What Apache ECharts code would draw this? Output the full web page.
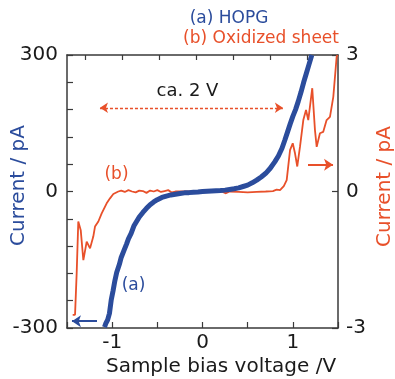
<!DOCTYPE html>
<html><head><meta charset="utf-8">
<script src="https://cdn.jsdelivr.net/npm/echarts@6/dist/echarts.min.js"></script>
<style>html,body{margin:0;padding:0;background:#fff}#c{width:395px;height:379px}</style>
</head><body><div id="c"></div>
<script>
// (a) HOPG — left axis, pA
const hopgV = [-1.085,-1.07,-1.05,-1.03,-1.01,-0.99,-0.97,-0.95,-0.92,-0.9,-0.87,-0.84,-0.82,-0.79,-0.76,-0.73,-0.7,-0.66,-0.62,-0.58,-0.54,-0.5,-0.45,-0.4,-0.35,-0.3,-0.25,-0.2,-0.15,-0.1,-0.05,0,0.05,0.1,0.15,0.2,0.25,0.3,0.35,0.4,0.45,0.5,0.55,0.6,0.65,0.7,0.75,0.8,0.84,0.88,0.91,0.94,0.97,1.0,1.03,1.06,1.09,1.12,1.15,1.18,1.21];
const hopgI = [-298,-290,-282,-268,-238,-218,-196,-178,-160,-145,-130,-115,-104,-92,-76,-66,-56,-46,-37,-29,-23,-18,-13,-10,-7.5,-6,-4.5,-3,-2.5,-1.5,-1,0,0.5,1,1.5,2,3,4.5,6,8,11,14,19,25,32,40,51,65,78,95,112,130,148,165,180,198,218,240,260,280,300];
// (b) Oxidized sheet — right axis
const oxV = [-1.437,-1.411,-1.393,-1.375,-1.348,-1.319,-1.282,-1.245,-1.209,-1.19,-1.153,-1.116,-1.061,-1.024,-0.987,-0.932,-0.9,-0.86,-0.82,-0.78,-0.74,-0.7,-0.66,-0.62,-0.58,-0.54,-0.5,-0.46,-0.42,-0.38,-0.34,-0.3,-0.2,-0.1,0,0.1,0.2,0.26,0.3,0.4,0.5,0.6,0.7,0.78,0.82,0.858,0.9,0.932,0.969,0.999,1.024,1.049,1.079,1.116,1.146,1.171,1.215,1.245,1.264,1.3,1.336,1.374,1.411,1.448,1.467,1.485,1.494];
const oxI = [-2.71,-2.71,-1.8,-0.66,-0.85,-1.51,-1.1,-1.25,-0.99,-0.77,-0.66,-0.48,-0.26,-0.15,-0.055,0,0.02,-0.01,0.03,0,-0.02,0.02,0.01,-0.03,0.02,0,0.03,-0.01,0.01,0.03,-0.02,0,0,0,0,0,0.01,-0.04,0,-0.01,-0.02,-0.01,0,0.01,0.04,0.03,0.12,0.25,0.91,1.06,0.84,0.55,0.98,1.57,1.79,1.57,2.27,1.35,0.98,1.28,1.31,1.57,1.64,2.08,2.05,2.96,3.0];

const xTickLabels = [-1, 0, 1];
const leftTickLabels = [-300, 0, 300];
const rightTickLabels = [-3, 0, 3];
const topTickValues = [-1.3, -0.89, -0.48, -0.07, 0.34, 0.75, 1.16];

// annotation arrows (data units)
const gapArrow = [[-1.135, 1.84], [0.89, 1.84]];      // right axis units
const blueArrow = [[-1.168, -285], [-1.445, -285]];   // left axis units
const redArrow = [[1.168, 0.59], [1.445, 0.59]];      // right axis units

const BLUE = '#2b4c9c', RED = '#e8502a', FONT = 'DejaVu Sans';
const zip = (a, b) => a.map((v, i) => [v, b[i]]);
const axisLine = {show: true, onZero: false, lineStyle: {color: '#3a3a3a', width: 1.5}};

const chart = echarts.init(document.getElementById('c'), null, {renderer: 'canvas'});
chart.setOption({
  backgroundColor: '#fff',
  animation: false,
  grid: {left: 67, right: 57, top: 55, bottom: 51, containLabel: false, outerBoundsMode: 'none'},
  xAxis: [{
    type: 'value', position: 'bottom', min: -1.5, max: 1.5, interval: 0.5,
    axisLine, splitLine: {show: false},
    axisTick: {inside: true, length: 6, lineStyle: {color: '#3a3a3a', width: 1.2}},
    axisLabel: {margin: 5, fontFamily: FONT, fontSize: 20, color: '#1a1a1a',
      formatter: v => xTickLabels.some(t => Math.abs(t - v) < 1e-6) ? String(Math.round(v)) : ''},
    name: 'Sample bias voltage /V', nameLocation: 'middle', nameGap: 29, nameMoveOverlap: false,
    nameTextStyle: {fontFamily: FONT, fontSize: 20, color: '#1a1a1a', padding: [0, 0, 0, 37]}
  }, {
    type: 'value', position: 'top', min: -1.5, max: 1.5,
    axisLine, splitLine: {show: false},
    axisTick: {inside: true, length: 5, customValues: topTickValues, lineStyle: {color: '#3a3a3a', width: 1.2}},
    axisLabel: {show: false}
  }],
  yAxis: [{
    type: 'value', position: 'left', min: -300, max: 300, interval: 60,
    axisLine, splitLine: {show: false},
    axisTick: {inside: true, length: 6, lineStyle: {color: '#3a3a3a', width: 1.2}},
    axisLabel: {margin: 9, fontFamily: FONT, fontSize: 20, color: '#1a1a1a',
      formatter: v => leftTickLabels.includes(Math.round(v)) && Math.abs(v - Math.round(v)) < 1e-6 ? String(Math.round(v)) : ''},
    name: 'Current / pA', nameLocation: 'middle', nameRotate: 90, nameGap: 38, nameMoveOverlap: false,
    nameTextStyle: {fontFamily: FONT, fontSize: 20, color: BLUE, padding: [0, 0, 0, 12]}
  }, {
    type: 'value', position: 'right', min: -3, max: 3, interval: 3,
    axisLine, splitLine: {show: false},
    axisTick: {inside: true, length: 6, lineStyle: {color: '#3a3a3a', width: 1.2}},
    axisLabel: {margin: 8, fontFamily: FONT, fontSize: 20, color: '#1a1a1a',
      formatter: v => rightTickLabels.includes(Math.round(v)) ? String(Math.round(v)) : ''},
    name: 'Current / pA', nameLocation: 'middle', nameRotate: 90, nameGap: 37, nameMoveOverlap: false,
    nameTextStyle: {fontFamily: FONT, fontSize: 20, color: RED, padding: [0, 0, 0, 10]}
  }],
  series: [{
    name: '(b) Oxidized sheet', type: 'line', xAxisIndex: 0, yAxisIndex: 1,
    data: zip(oxV, oxI), showSymbol: false, symbol: 'none',
    lineStyle: {color: RED, width: 1.8}, z: 2,
    markLine: {
      silent: true, animation: false, label: {show: false},
      data: [
        [{coord: gapArrow[0], symbol: 'arrow', symbolSize: 8, lineStyle: {color: RED, width: 1.3, type: [3, 2]}},
         {coord: gapArrow[1], symbol: 'arrow', symbolSize: 8}],
        [{coord: redArrow[0], symbol: 'none', lineStyle: {color: RED, width: 2, type: 'solid'}},
         {coord: redArrow[1], symbol: 'arrow', symbolSize: 9}]
      ]
    }
  }, {
    name: '(a) HOPG', type: 'line', xAxisIndex: 0, yAxisIndex: 0,
    data: zip(hopgV, hopgI), showSymbol: false, symbol: 'none',
    lineStyle: {color: BLUE, width: 5}, z: 3,
    markLine: {
      silent: true, animation: false, label: {show: false},
      data: [
        [{coord: blueArrow[0], symbol: 'none', lineStyle: {color: BLUE, width: 2, type: 'solid'}},
         {coord: blueArrow[1], symbol: 'arrow', symbolSize: 9}]
      ]
    }
  }],
  graphic: [
    {type: 'text', x: 229, y: 19, style: {text: '(a) HOPG', font: '17px "DejaVu Sans"', fill: BLUE, align: 'center', verticalAlign: 'middle'}},
    {type: 'text', x: 261, y: 39, style: {text: '(b) Oxidized sheet', font: '17px "DejaVu Sans"', fill: RED, align: 'center', verticalAlign: 'middle'}},
    {type: 'text', x: 187.5, y: 91, style: {text: 'ca. 2 V', font: '18px "DejaVu Sans"', fill: '#1a1a1a', align: 'center', verticalAlign: 'middle'}},
    {type: 'text', x: 116.5, y: 175, style: {text: '(b)', font: '17px "DejaVu Sans"', fill: RED, align: 'center', verticalAlign: 'middle'}},
    {type: 'text', x: 133.5, y: 286, style: {text: '(a)', font: '17px "DejaVu Sans"', fill: BLUE, align: 'center', verticalAlign: 'middle'}}
  ]
});
</script></body></html>
